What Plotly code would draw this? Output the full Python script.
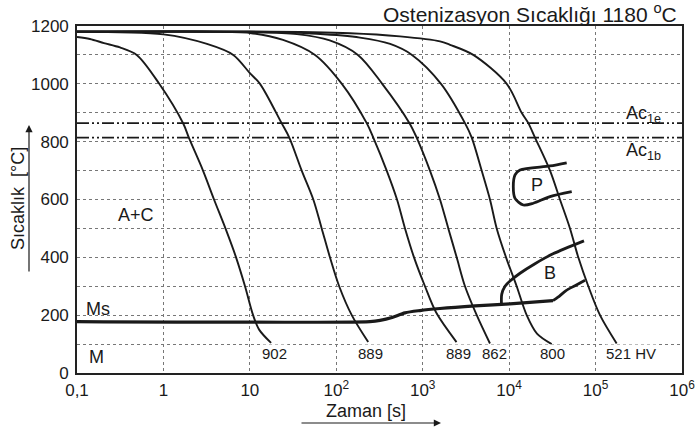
import plotly.graph_objects as go

# ---------------- data (time in s, temperature in °C) ----------------
c1_t = [0.1, 0.141, 0.205, 0.314, 0.491, 0.895, 1.70, 1.98, 2.87, 3.85, 5.22, 6.92, 8.79, 10.9, 12.8, 17.6]
c1_T = [1162, 1155, 1141, 1126, 1100, 1000, 862, 812, 700, 600, 500, 400, 300, 200, 150, 104]

c2_t = [0.1, 1.0, 3.19, 6.43, 10.0, 13.1, 23.3, 28.6, 39.8, 54.2, 67.8, 84.5, 108, 151, 234]
c2_T = [1180, 1171, 1138, 1100, 1037, 1000, 864, 814, 700, 600, 500, 400, 300, 200, 107]

c3_t = [0.1, 2.65, 10, 24.2, 56.8, 116, 225, 268, 383, 504, 624, 793, 1062, 1426, 2460]
c3_T = [1180, 1180, 1176, 1152, 1100, 1000, 864, 814, 700, 600, 500, 400, 300, 210, 107]

c4_t = [0.1, 10, 35.0, 84.0, 178, 340, 703, 851, 1213, 1585, 1977, 2472, 3083, 4217, 6000]
c4_T = [1180, 1179, 1172, 1150, 1100, 1000, 864, 814, 700, 600, 500, 400, 300, 200, 102]

c5_t = [0.1, 10, 59.3, 188, 420, 752, 1629, 3083, 3690, 4808, 6000, 7178, 9204, 12220, 15960, 20990, 31050]
c5_T = [1180, 1180, 1173, 1160, 1138, 1100, 1000, 864, 814, 700, 600, 500, 400, 300, 200, 136, 100]

c6_t = [0.1, 10, 144, 546, 1585, 2070, 3846, 9376, 13960, 16670, 19910, 29720, 38730, 50580, 63100, 82410, 112500, 175400]
c6_T = [1181, 1181, 1175, 1164, 1147, 1135, 1100, 1000, 900, 864, 814, 700, 600, 500, 400, 300, 200, 102]

curve_hv = ["902", "889", "889", "862", "800", "521 HV"]

ms_t = [0.1, 245, 321, 442, 624, 931, 1585, 4027, 10230, 32140]
ms_T = [178, 178, 182, 192, 208, 216, 223, 232, 239, 250]

bf_t = [32140, 36730, 45500, 57810, 75510]
bf_T = [250, 262, 285, 302, 321]

bs_t = [8147, 8204, 8954, 10230, 13370, 19910, 32140, 73450]
bs_T = [240, 272, 300, 318, 345, 378, 412, 457]

p_t = [46340, 29720, 13370, 11700, 11170, 11700, 14590, 19010, 29720, 52970]
p_T = [727, 716, 702, 685, 644, 604, 581, 587, 610, 627]

ac1e_T = 864
ac1b_T = 814

x_tickvals = [0.1, 1, 10, 100, 1e3, 1e4, 1e5, 1e6]
x_ticktext = ["0,1", "1", "10", "10<sup>2</sup>", "10<sup>3</sup>", "10<sup>4</sup>",
              "10<sup>5</sup>", "10<sup>6</sup>"]
y_tickvals = list(range(0, 1201, 100))
y_ticktext = [str(v) if v % 200 == 0 else "" for v in y_tickvals]

# ---------------- figure ----------------
FONT = "Liberation Sans, Arial, sans-serif"
INK = "#1a1a1a"

W, H = 696, 430
L, R, T, B = 77, 14, 26, 57
PW, PH = W - L - R, H - T - B


def px(x, y):
    """page pixel position -> paper coordinates"""
    return (x - L) / PW, (H - B - y) / PH


fig = go.Figure()

curves = [(c1_t, c1_T), (c2_t, c2_T), (c3_t, c3_T), (c4_t, c4_T), (c5_t, c5_T), (c6_t, c6_T)]
for t, T_ in curves:
    fig.add_trace(go.Scatter(x=t, y=T_, mode="lines",
                             line=dict(color=INK, width=1.9, shape="spline", smoothing=0.9),
                             hoverinfo="skip"))

# Ac lines
for v in (ac1e_T, ac1b_T):
    fig.add_trace(go.Scatter(x=[0.1, 1e6], y=[v, v], mode="lines",
                             line=dict(color=INK, width=1.8, dash="12px,3px,2px,3px,2px,3px"),
                             hoverinfo="skip"))

# Ms line and bainite boundaries
fig.add_trace(go.Scatter(x=ms_t, y=ms_T, mode="lines",
                         line=dict(color=INK, width=3.2, shape="spline", smoothing=0.8)))
fig.add_trace(go.Scatter(x=bf_t, y=bf_T, mode="lines",
                         line=dict(color=INK, width=2.8, shape="spline", smoothing=0.8)))
fig.add_trace(go.Scatter(x=bs_t, y=bs_T, mode="lines",
                         line=dict(color=INK, width=2.8, shape="spline", smoothing=0.8)))
fig.add_trace(go.Scatter(x=p_t, y=p_T, mode="lines",
                         line=dict(color=INK, width=2.8, shape="spline", smoothing=0.8)))

ann = []


def text(x, y, s, size=18, xanchor="center", yanchor="middle", bg=None, angle=0):
    xp, yp = px(x, y)
    d = dict(x=xp, y=yp, xref="paper", yref="paper", text=s, showarrow=False,
             font=dict(family=FONT, size=size, color=INK), xanchor=xanchor, yanchor=yanchor,
             textangle=angle)
    if bg:
        d["bgcolor"] = bg
        d["borderpad"] = 0
    ann.append(d)


# curve hardness labels
label_pos = [(274.5, 353), (370, 353), (458, 353), (494.5, 353), (552.5, 353), (630.5, 353)]
for (x, y), s in zip(label_pos, curve_hv):
    text(x, y, s, size=15, bg="white")

# region labels
text(136, 215, "A+C", 18)
text(98, 309, "Ms", 18)
text(96, 357, "M", 18)
text(537, 185, "P", 18)
text(550, 273, "B", 18)
text(624, 115, "Ac<sub>1e</sub>", 18, xanchor="left")
text(624, 151, "Ac<sub>1b</sub>", 18, xanchor="left")

# title
text(679, 13, "Ostenizasyon Sıcaklığı 1180 <sup>o</sup>C", 21, xanchor="right")

# axis titles
text(18, 199, "Sıcaklık  [°C]", 18, angle=-90)
text(366, 411, "Zaman [s]", 18)

# axis arrows
hx, hy = px(29, 125)
ann.append(dict(x=hx, y=hy, xref="paper", yref="paper", ax=0, ay=148, axref="pixel",
                ayref="pixel", showarrow=True, arrowhead=2, arrowsize=1.2, arrowwidth=1.2,
                arrowcolor=INK, text=""))
hx, hy = px(441, 423)
ann.append(dict(x=hx, y=hy, xref="paper", yref="paper", ax=-141, ay=0, axref="pixel",
                ayref="pixel", showarrow=True, arrowhead=2, arrowsize=1.2, arrowwidth=1.2,
                arrowcolor=INK, text=""))

axis_common = dict(showline=True, linecolor="#222", linewidth=1.6, mirror=True,
                   showgrid=True, gridcolor="#777", gridwidth=1, griddash="dot",
                   zeroline=False, ticks="",
                   tickfont=dict(family=FONT, size=17, color=INK))

fig.update_layout(
    width=W, height=H,
    margin=dict(l=L, r=R, t=T, b=B),
    paper_bgcolor="white", plot_bgcolor="white",
    showlegend=False,
    annotations=ann,
    xaxis=dict(type="log", range=[-1, 6], tickvals=x_tickvals, ticktext=x_ticktext,
               ticklabelstandoff=1, automargin=False, **axis_common),
    yaxis=dict(range=[0, 1200], tickvals=y_tickvals, ticktext=y_ticktext,
               ticklabelstandoff=3, automargin=False, **axis_common),
)

fig.write_html("out.html", config={"displayModeBar": False},
               post_script="document.body.style.margin='0';document.body.style.overflow='hidden';")
